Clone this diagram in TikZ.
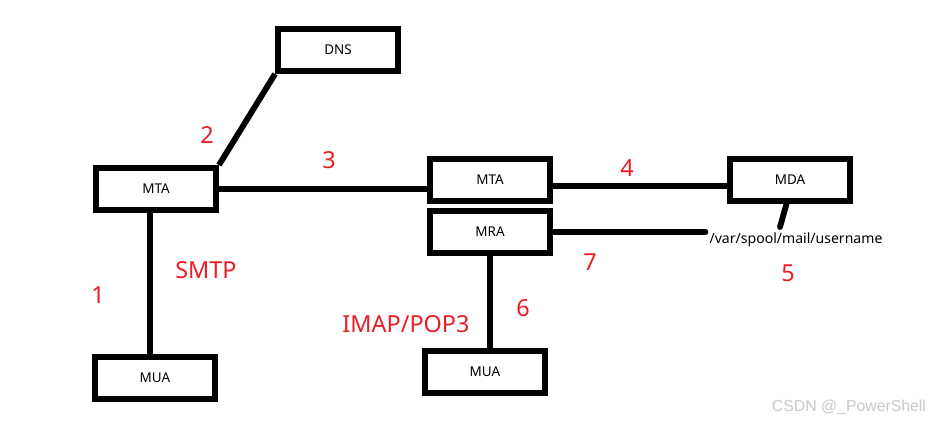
\documentclass[tikz,border=0pt]{standalone}
\usepackage{fontspec}
\setmainfont{Noto Sans}
\newfontfamily\marque{Liberation Sans}
\usepackage{tikz}
\usetikzlibrary{calc}
\definecolor{rouge}{RGB}{235,28,36}
\definecolor{filigrane}{RGB}{200,200,200}

\begin{document}
\begin{tikzpicture}[x=0.03cm, y=-0.03cm,
	boite/.style={draw, line width=5pt, minimum width=3.6cm, minimum height=1.26cm, inner sep=0pt, font=\fontsize{11.5}{13}\selectfont},
	lien/.style={line width=5pt},
	num/.style={text=rouge, font=\fontsize{20}{24}\selectfont}]
	\useasboundingbox (0,0) rectangle (933,425);
	%les boites
	\node[boite] (dns) at (338,50) {DNS};
	\node[boite] (mtaA) at (156,189) {MTA};
	\node[boite] (mtaB) at (490,180) {MTA};
	\node[boite] (mda) at (790,180) {MDA};
	\node[boite] (mra) at (490,232) {MRA};
	\node[boite] (muaA) at (155,378) {MUA};
	\node[boite] (muaB) at (485,372) {MUA};
	\node[font=\fontsize{12}{14}\selectfont] (spool) at (796,240) {/var/spool/mail/username};
	\coordinate (mdabas) at (780,227);
	%les liens
	\draw[lien] (mtaA.north east) -- (dns.south west);
	\draw[lien] (mtaA.east) -- (mtaA.east -| mtaB.west);
	\draw[lien] ([yshift=-5pt]mtaB.east) -- ([yshift=-5pt]mda.west);
	\draw[lien, line cap=round] ([xshift=-3pt]mda.south) -- (mdabas);
	\draw[lien, line cap=round] (mra.east) -- (mra.east -| spool.west);
	\draw[lien] (mra.south) -- (mra.south |- muaB.north);
	\draw[lien] ([xshift=-5pt]mtaA.south) -- ([xshift=-5pt]mtaA.south |- muaA.north);
	%les numeros
	\node[num] (n1) at (98,295) {1};
	\node[num] (n2) at (207,135) {2};
	\node[num] (n3) at (329,160) {3};
	\node[num] (n4) at (627,168) {4};
	\node[num] (n5) at (788,273) {5};
	\node[num] (n6) at (523,308) {6};
	\node[num] (n7) at (590,262) {7};
	\node[num] (smtp) at (206,270) {SMTP};
	\node[num] (imap) at (406,324) {IMAP/POP3};
	\node[text=filigrane, font=\marque\fontsize{13.5}{15}\selectfont] (csdn) at (849,407) {CSDN @\_PowerShell};
\end{tikzpicture}
\end{document}
